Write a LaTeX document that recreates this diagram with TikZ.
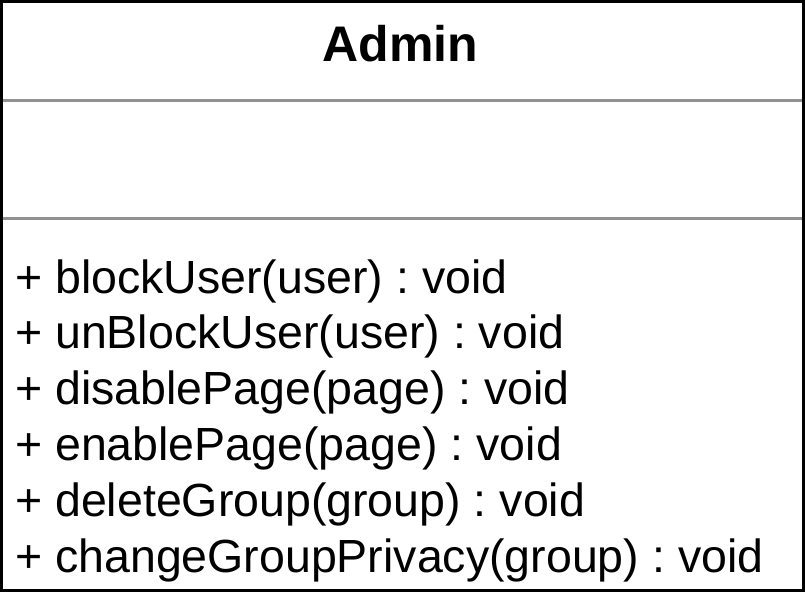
\documentclass[tikz,border=0pt]{standalone}
\usepackage{fontspec}
\setmainfont{Liberation Sans}
\begin{document}
\frenchspacing
\begin{tikzpicture}[x=1pt,y=1pt,
  classname/.style={inner sep=0pt,anchor=base,font=\fontsize{50}{60}\selectfont\bfseries},
  member/.style={inner sep=0pt,anchor=base west,font=\fontsize{46.5}{56}\selectfont},
  frame/.style={draw=black,line width=3pt},
  divider/.style={draw=black!43,line width=3pt}]
  \useasboundingbox (0,0) rectangle (805,-592);
  % class compartments
  \draw[divider] (0,-100.5) -- (805,-100.5);
  \draw[divider] (0,-218.5) -- (805,-218.5);
  \draw[frame] (1.5,-1.5) rectangle (803.5,-590.5);
  % class name
  \node[classname] (title) at (400.5,-61) {Admin};
  % operations
  \node[member] (op1) at (15,-293.0) {+ blockUser(user) : void};
  \node[member] (op2) at (15,-348.8) {+ unBlockUser(user) : void};
  \node[member] (op3) at (15,-404.6) {+ disablePage(page) : void};
  \node[member] (op4) at (15,-460.4) {+ enablePage(page) : void};
  \node[member] (op5) at (15,-516.2) {+ deleteGroup(group) : void};
  \node[member] (op6) at (15,-572.0) {+ changeGroupPrivacy(group) : void};
\end{tikzpicture}
\end{document}
